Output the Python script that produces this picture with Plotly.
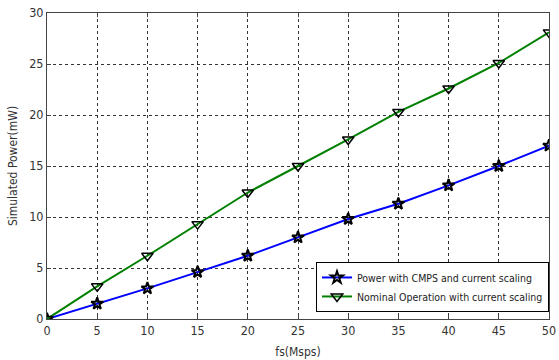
import plotly.graph_objects as go

fs = [0, 5, 10, 15, 20, 25, 30, 35, 40, 45, 50]
power_cmps = [0, 1.5, 3.0, 4.6, 6.2, 8.0, 9.8, 11.3, 13.1, 15.0, 17.0]
power_nominal = [0, 3.2, 6.2, 9.3, 12.4, 15.0, 17.6, 20.3, 22.6, 25.1, 28.1]
x_ticks = [0, 5, 10, 15, 20, 25, 30, 35, 40, 45, 50]
y_ticks = [0, 5, 10, 15, 20, 25, 30]

font_fam = "DejaVu Sans Condensed, Liberation Sans Narrow, Arial Narrow, sans-serif"

fig = go.Figure()
fig.add_trace(go.Scatter(
    x=fs, y=power_cmps, mode="lines+markers",
    name="Power with CMPS and current scaling",
    line=dict(color="#0000ff", width=2),
    marker=dict(symbol="star-open", size=9, color="black", line=dict(color="black", width=2)),
))
fig.add_trace(go.Scatter(
    x=fs, y=power_nominal, mode="lines+markers",
    name="Nominal Operation with current scaling",
    line=dict(color="#008000", width=2),
    marker=dict(symbol="triangle-down-open", size=10, color="black", line=dict(color="black", width=1.5)),
))

axis_common = dict(
    showline=True, linecolor="#444", linewidth=1, mirror="ticks",
    ticks="inside", ticklen=4, tickcolor="#444",
    showgrid=True, gridcolor="#333", griddash="dot", gridwidth=1,
    zeroline=False, automargin=False,
    tickfont=dict(family=font_fam, size=12.5, color="#333"),
)

fig.update_xaxes(range=[0, 50], tickvals=x_ticks, **axis_common,
                 title=dict(text="fs(Msps)", font=dict(family=font_fam, size=12, color="#333"), standoff=10))
fig.update_yaxes(range=[0, 30], tickvals=y_ticks, **axis_common,
                 title=dict(text="Simulated Power(mW)", font=dict(family=font_fam, size=12, color="#333"), standoff=8))

fig.update_layout(
    width=559, height=360,
    margin=dict(l=47, r=10, t=13, b=41),
    paper_bgcolor="white", plot_bgcolor="white",
    showlegend=True,
    legend=dict(
        x=1, y=0.023, xanchor="right", yanchor="bottom",
        bgcolor="white", bordercolor="black", borderwidth=1,
        font=dict(family=font_fam, size=10.5, color="#222"),
        tracegroupgap=0, itemwidth=30,
    ),
)

fig.write_html("out.html", config={"displayModeBar": False},
               post_script="document.body.style.margin='0';document.body.style.overflow='hidden';")
